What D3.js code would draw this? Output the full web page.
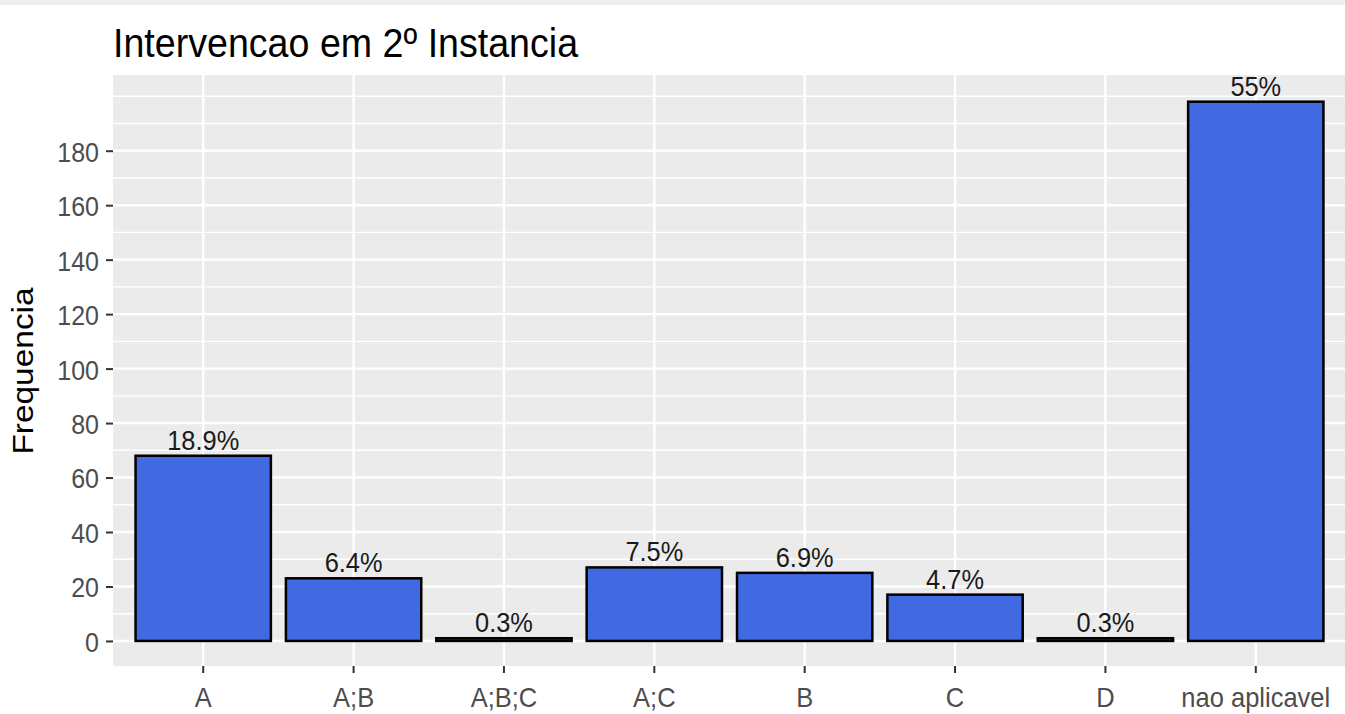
<!DOCTYPE html>
<html>
<head>
<meta charset="utf-8">
<script src="https://cdn.jsdelivr.net/npm/d3@7"></script>
<style>
  body { margin: 0; background: #fff; }
  text { font-family: "Liberation Sans", Arial, sans-serif; }
</style>
</head>
<body>
<svg width="1345" height="714"></svg>
<script>
const categories = ["A", "A;B", "A;B;C", "A;C", "B", "C", "D", "nao aplicavel"];
const counts = [68, 23, 1, 27, 25, 17, 1, 198];
const yMajorTicks = [0, 20, 40, 60, 80, 100, 120, 140, 160, 180];
const yMinorTicks = [10, 30, 50, 70, 90, 110, 130, 150, 170, 190, 200];

const total = d3.sum(counts);
const data = categories.map((c, i) => ({
    cat: c,
    n: counts[i],
    label: Math.round(counts[i] / total * 1000) / 10 + "%"
}));

// the screenshot is a bit taller than wide, so text is stretched vertically
const stretchY = 1.1;
function stretch(sel) {
    sel.each(function() {
        const t = d3.select(this);
        const tx = +t.attr("x") || 0, ty = +t.attr("y") || 0;
        t.attr("x", 0).attr("y", 0)
         .attr("transform", `translate(${tx},${ty}) scale(1,${stretchY})`);
    });
}

const svg = d3.select("svg");

// faint strip along the top edge of the screenshot
svg.append("rect")
    .attr("x", 0).attr("y", 0)
    .attr("width", 1345).attr("height", 5)
    .attr("fill", "#efefef");

const panel = { left: 113, right: 1346, top: 75, bottom: 666 };

const x = d3.scaleBand()
    .domain(categories)
    .range([panel.left, panel.right])
    .paddingInner(0.1)
    .paddingOuter(0.15);

const y = d3.scaleLinear()
    .domain([-9.2, 207.8])
    .range([panel.bottom, panel.top]);

// panel background
svg.append("rect")
    .attr("x", panel.left)
    .attr("y", panel.top)
    .attr("width", panel.right - panel.left)
    .attr("height", panel.bottom - panel.top)
    .attr("fill", "#EBEBEB");

// grid
svg.selectAll(".minor")
    .data(yMinorTicks)
    .join("line")
    .classed("minor", true)
    .attr("x1", panel.left).attr("x2", panel.right)
    .attr("y1", d => y(d)).attr("y2", d => y(d))
    .attr("stroke", "#fff")
    .attr("stroke-width", 1.4);

svg.selectAll(".major")
    .data(yMajorTicks)
    .join("line")
    .classed("major", true)
    .attr("x1", panel.left).attr("x2", panel.right)
    .attr("y1", d => y(d)).attr("y2", d => y(d))
    .attr("stroke", "#fff")
    .attr("stroke-width", 2.4);

svg.selectAll(".vmajor")
    .data(categories)
    .join("line")
    .classed("vmajor", true)
    .attr("x1", d => x(d) + x.bandwidth() / 2)
    .attr("x2", d => x(d) + x.bandwidth() / 2)
    .attr("y1", panel.top).attr("y2", panel.bottom)
    .attr("stroke", "#fff")
    .attr("stroke-width", 2.4);

// bars
svg.selectAll(".bar")
    .data(data)
    .join("rect")
    .classed("bar", true)
    .attr("x", d => x(d.cat))
    .attr("width", x.bandwidth())
    .attr("y", d => y(d.n))
    .attr("height", d => y(0) - y(d.n))
    .attr("fill", "#4169E1")
    .attr("stroke", "#000")
    .attr("stroke-width", 2.5);

// value labels
svg.selectAll(".label")
    .data(data)
    .join("text")
    .classed("label", true)
    .attr("x", d => x(d.cat) + x.bandwidth() / 2)
    .attr("y", d => y(d.n) - 6)
    .attr("text-anchor", "middle")
    .attr("font-size", 25.4)
    .attr("fill", "#1a1a1a")
    .text(d => d.label)
    .call(stretch);

// y axis
const yAxis = svg.append("g")
    .attr("transform", `translate(${panel.left},0)`)
    .call(d3.axisLeft(y).tickValues(yMajorTicks).tickSize(7).tickPadding(7));
yAxis.select(".domain").remove();
yAxis.selectAll(".tick line").attr("stroke", "#333").attr("stroke-width", 2);
yAxis.selectAll(".tick text")
    .attr("font-size", 25)
    .attr("dy", "0.38em")
    .attr("fill", "#4D4D4D")
    .attr("font-family", "Liberation Sans, Arial, sans-serif")
    .call(stretch);

// x axis
const xAxis = svg.append("g")
    .attr("transform", `translate(0,${panel.bottom})`)
    .call(d3.axisBottom(x).tickSize(7).tickPadding(14));
xAxis.select(".domain").remove();
xAxis.selectAll(".tick line").attr("stroke", "#333").attr("stroke-width", 2);
xAxis.selectAll(".tick text")
    .attr("font-size", 25.5)
    .attr("fill", "#4D4D4D")
    .attr("font-family", "Liberation Sans, Arial, sans-serif")
    .call(stretch);

// titles
svg.append("text")
    .attr("x", 113)
    .attr("y", 57)
    .attr("font-size", 37.6)
    .attr("fill", "#000")
    .text("Intervencao em 2º Instancia")
    .call(stretch);

svg.append("text")
    .attr("transform", `translate(33,371) rotate(-90) scale(${stretchY},1)`)
    .attr("text-anchor", "middle")
    .attr("font-size", 30.4)
    .attr("fill", "#000")
    .text("Frequencia");
</script>
</body>
</html>
